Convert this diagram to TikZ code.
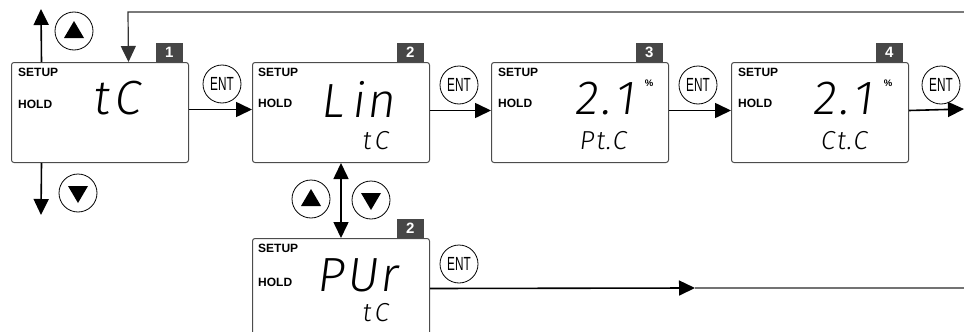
\documentclass[tikz,border=0pt]{standalone}
\usepackage{fontspec}
\setmainfont{Liberation Sans}
\IfFontExistsTF{Fira Sans Light}{\newfontfamily\seg{Fira Sans Light}[FakeSlant=0.13]}{%
 \IfFontExistsTF{DejaVu Sans ExtraLight}{\newfontfamily\seg{DejaVu Sans ExtraLight}[FakeSlant=0.13]}{%
  \newfontfamily\seg{Fira Sans}[FakeSlant=0.13]}}
\usetikzlibrary{arrows.meta}
\tikzset{
 lcd/.style={draw=black!70, line width=1pt, rounded corners=2.5pt, minimum width=177pt, minimum height=100pt, anchor=north west, inner sep=0pt},
 tag/.style={fill=black!72, text=white, font=\bfseries\fontsize{15}{15}\selectfont, minimum width=27pt, minimum height=19pt, inner sep=0pt, anchor=south east},
 lbl/.style={font=\bfseries\fontsize{12}{12}\selectfont, anchor=west, inner sep=0pt},
 big/.style={font=\seg\fontsize{48}{48}\selectfont, inner sep=0pt},
 small/.style={font=\seg\fontsize{26}{26}\selectfont, inner sep=0pt},
 pct/.style={font=\bfseries\fontsize{9.5}{9.5}\selectfont, inner sep=0pt},
 btn/.style={circle, draw=black, line width=0.8pt, minimum size=38pt, inner sep=0pt},
 ent/.style={btn, font=\fontsize{19}{19}\selectfont},
 arr/.style={line width=1.6pt, -{Triangle[length=16pt,width=15pt]}},
 darr/.style={line width=1.6pt, {Triangle[length=16pt,width=15pt]}-{Triangle[length=16pt,width=15pt]}},
 fb/.style={line width=1.2pt, draw=black!80},
 grayline/.style={line width=1.2pt, draw=black!55},
}
\begin{document}
\begin{tikzpicture}[x=1pt,y=-1pt]
\useasboundingbox (0,0) rectangle (964,332);
\clip (0,0) rectangle (964,332);
% boxes
\node[lcd] (b1) at (11,62) {};
\node[lcd] (b2) at (252,62) {};
\node[lcd] (b3) at (491,62) {};
\node[lcd] (b4) at (731,62) {};
\node[lcd] (b5) at (252,238) {};
% tags
\node[tag, xshift=-6pt] (t1) at (b1.north east) {1};
\node[tag, xshift=-6pt] (t2) at (b2.north east) {2};
\node[tag, xshift=-6pt] (t3) at (b3.north east) {3};
\node[tag, xshift=-6pt] (t4) at (b4.north east) {4};
\node[tag, xshift=-6pt] (t5) at (b5.north east) {2};
% labels
\node[lbl] (s1) at (18,72) {SETUP};  \node[lbl] (h1) at (18,104) {HOLD};
\node[lbl] (s2) at (258,72) {SETUP}; \node[lbl] (h2) at (258,103) {HOLD};
\node[lbl] (s3) at (498,72) {SETUP}; \node[lbl] (h3) at (498,103) {HOLD};
\node[lbl] (s4) at (738,72) {SETUP}; \node[lbl] (h4) at (738,103) {HOLD};
\node[lbl] (s5) at (258,248) {SETUP}; \node[lbl] (h5) at (258,282) {HOLD};
% displays
\node[big] (d1) at (116.5,98.5) {t\kern5pt C};
\node[big] (d2) at (357.5,99.5) {L\kern8pt i\kern2pt n};
\node[small] (e2) at (375,141) {t\kern3pt C};
\node[big] (d3) at (604,98.5) {2\kern3pt.\kern4pt 1};
\node[pct] (p3) at (649,83) {\%};
\node[small] (e3) at (602.5,141) {P\kern2pt t\kern1pt .\kern1pt C};
\node[big] (d4) at (842,98.5) {2\kern3pt.\kern4pt 1};
\node[pct] (p4) at (888,83) {\%};
\node[small] (e4) at (843.5,141) {C\kern2pt t\kern1pt .\kern1pt C};
\node[big] (d5) at (357,275) {P\kern2pt U\kern2pt r};
\node[small] (e5) at (375,313) {t\kern3pt C};
% ENT buttons
\node[ent] (n1) at (222,84) {\scalebox{0.62}[1]{ENT}};
\node[ent] (n2) at (459,85) {\scalebox{0.62}[1]{ENT}};
\node[ent] (n3) at (698,85) {\scalebox{0.62}[1]{ENT}};
\node[ent] (n4) at (941,85) {\scalebox{0.62}[1]{ENT}};
\node[ent] (n5) at (459,264) {\scalebox{0.62}[1]{ENT}};
% arrow buttons
\node[btn] (u1) at (74,31) {};
\node[btn] (w1) at (78,193) {};
\node[btn] (u2) at (311,199) {};
\node[btn] (w2) at (371,200) {};
\fill[shift={(u1.center)}] (-10,7) -- (10,7) -- (0,-10) -- cycle;
\fill[shift={(u2.center)}] (-10,7) -- (10,7) -- (0,-10) -- cycle;
\fill[shift={(w1.center)}] (-10,-7) -- (10,-7) -- (0,10) -- cycle;
\fill[shift={(w2.center)}] (-10,-7) -- (10,-7) -- (0,10) -- cycle;
% free ends
\coordinate (upTip) at (41,9);
\coordinate (dnTip) at (41,215);
\coordinate (fbR) at (964,12);
\coordinate (fbC) at (128,12);
\coordinate (outR) at (964,109);
\coordinate (mid) at (695,288);
\coordinate (endR) at (964,288);
% connectors
\draw[arr] ([xshift=-58.5pt]b1.north) -- (upTip);
\draw[arr] ([xshift=-58.5pt]b1.south) -- (dnTip);
\draw[fb, -{Triangle[length=16pt,width=15pt]}] (fbR) -- (fbC) -- ([xshift=28.5pt]b1.north);
\draw[arr] ([yshift=3pt]b1.east) -- ([yshift=3pt]b2.west);
\draw[arr] ([yshift=2pt]b2.east) -- ([yshift=2pt]b3.west);
\draw[arr] ([yshift=2pt]b3.east) -- ([yshift=2pt]b4.west);
\draw[arr] ([yshift=2pt]b4.east) -- (outR);
\draw[darr] (b2.south) -- (b5.north);
\draw[arr] (b5.east) -- (mid);
\draw[grayline] (mid) -- (endR);
\end{tikzpicture}
\end{document}
